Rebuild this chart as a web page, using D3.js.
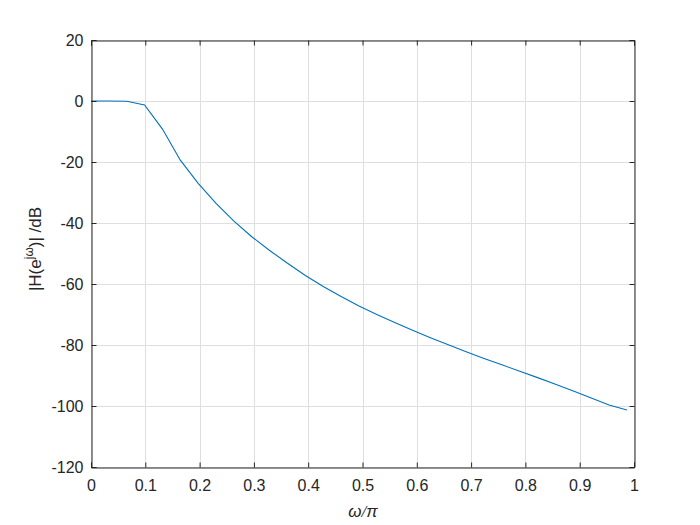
<!DOCTYPE html>
<html><head><meta charset="utf-8">
<script src="https://cdn.jsdelivr.net/npm/d3@7"></script>
<style>body{margin:0;background:#fff}svg{display:block}text{font-family:"Liberation Sans",Arial,sans-serif}</style>
</head><body><svg id="c" width="700" height="525"></svg>
<script>
const freq = [0,0.0329,0.0658,0.0987,0.1316,0.1645,0.1974,0.2303,0.2632,0.2961,0.329,0.3619,0.3948,0.4277,0.4606,0.4935,0.5264,0.5593,0.5922,0.6251,0.658,0.6909,0.7238,0.7567,0.7896,0.8225,0.8554,0.8883,0.9212,0.9541,0.987];
const magDb = [0,0,-0.1,-1.3,-9.2,-19.4,-27.0,-33.6,-39.4,-44.5,-49.0,-53.2,-57.2,-60.8,-64.1,-67.2,-70.0,-72.6,-75.2,-77.6,-79.9,-82.2,-84.4,-86.5,-88.6,-90.7,-92.9,-95.1,-97.4,-99.7,-101.3];
const xTicks = [0,0.1,0.2,0.3,0.4,0.5,0.6,0.7,0.8,0.9,1];
const yTicks = [20,0,-20,-40,-60,-80,-100,-120];

const svg = d3.select('#c');
const L=91,R=634,T=40,B=467;
const x = d3.scaleLinear().domain([0,1]).range([L,R]);
const y = d3.scaleLinear().domain([-120,20]).range([B,T]);
const g = svg.append('g');
// grid
g.selectAll('.gx').data(xTicks).join('line').attr('x1',d=>Math.round(x(d))+0.5).attr('x2',d=>Math.round(x(d))+0.5)
 .attr('y1',T).attr('y2',B).attr('stroke','#dfdfdf').attr('stroke-width',1);
g.selectAll('.gy').data(yTicks).join('line').attr('y1',d=>Math.round(y(d))+0.5).attr('y2',d=>Math.round(y(d))+0.5)
 .attr('x1',L).attr('x2',R).attr('stroke','#dfdfdf').attr('stroke-width',1);
// line
svg.append('path').datum(freq.map((f,i)=>[f,magDb[i]])).attr('fill','none').attr('stroke','#0072BD').attr('stroke-width',1.1)
 .attr('d',d3.line().x(d=>x(d[0])).y(d=>y(d[1])));
// axes
const ax = d3.axisBottom(x).tickValues(xTicks).tickFormat(d=>d===0||d===1?String(d):d.toFixed(1)).tickSize(-5).tickPadding(12);
const ay = d3.axisLeft(y).tickValues(yTicks).tickFormat(d=>String(d)).tickSize(-5).tickPadding(8);
const axb = svg.append('g').attr('transform',`translate(0,${B+0.5})`).call(ax);
const axt = svg.append('g').attr('transform',`translate(0,${T+0.5})`).call(d3.axisTop(x).tickValues(xTicks).tickFormat('').tickSize(-5));
const ayl = svg.append('g').attr('transform',`translate(${L+0.5},0)`).call(ay);
const ayr = svg.append('g').attr('transform',`translate(${R+0.5},0)`).call(d3.axisRight(y).tickValues(yTicks).tickFormat('').tickSize(-5));
[axb,axt,ayl,ayr].forEach(a=>{a.select('.domain').attr('stroke','#262626');a.selectAll('.tick line').attr('stroke','#262626');
 a.selectAll('text').attr('fill','#262626').style('font-size','16px').style('font-family','"Liberation Sans",Arial,sans-serif');});
// labels
const xl = svg.append('text').attr('x',363).attr('y',517).attr('text-anchor','middle').attr('fill','#262626').style('font-size','17px')
 .attr('font-style','italic').attr('font-family','"DejaVu Serif",serif');
xl.append('tspan').text('ω');
xl.append('tspan').attr('font-family','"Liberation Serif",serif').text('/');
xl.append('tspan').text('π');
const yl = svg.append('text').attr('transform','translate(41,249) rotate(-90)').attr('text-anchor','middle').attr('fill','#262626').style('font-size','17px');
yl.append('tspan').text('|H(e');
yl.append('tspan').attr('dy',-8).style('font-size','12px').text('jω');
yl.append('tspan').attr('dy',8).text(')| /dB');
</script></body></html>
